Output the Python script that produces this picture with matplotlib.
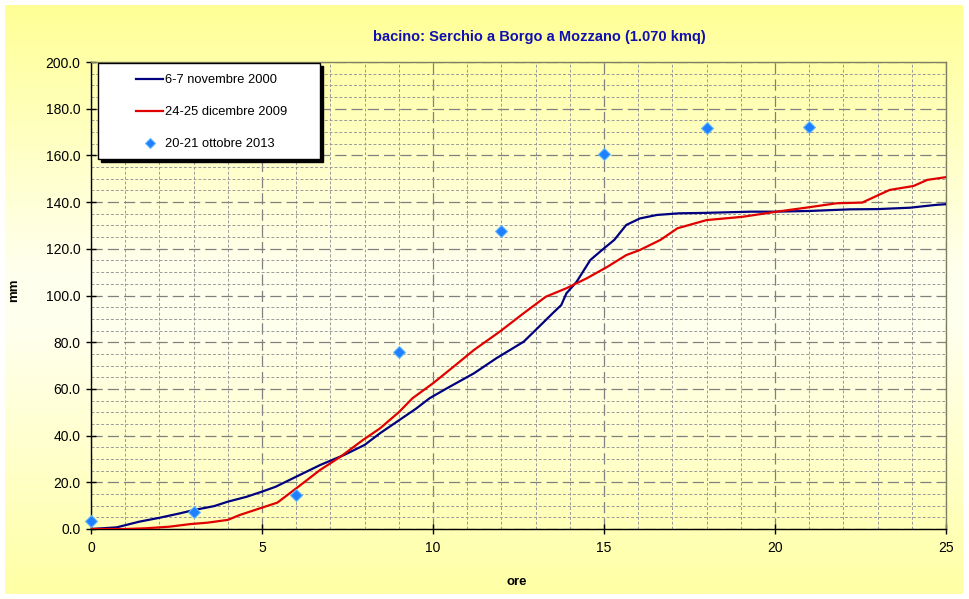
import matplotlib
matplotlib.use("Agg")
import matplotlib.pyplot as plt
from matplotlib.lines import Line2D
from matplotlib.patches import Rectangle
from matplotlib.ticker import MultipleLocator, FormatStrFormatter
import numpy as np

# 6-7 novembre 2000
t_2000 = [0, 0.75, 1.4, 2.0, 2.6, 3.0, 3.6, 4.0, 4.55, 5.0, 5.4, 6.0, 6.7, 7.4, 8.0, 8.45,
          9.0, 9.5, 9.9, 10.4, 11.2, 11.85, 12.65, 13.0, 13.5, 13.75, 13.9, 14.2, 14.6,
          15.0, 15.3, 15.65, 16.05, 16.55, 17.2, 18.0, 19.3, 20.0, 21.0, 22.2, 23.0, 23.95,
          24.7, 25.1]
v_2000 = [0, 0.7, 3.1, 4.8, 6.7, 8.1, 9.8, 11.7, 13.8, 16.0, 18.1, 22.4, 27.4, 31.7, 36.0, 41.0,
          46.5, 51.5, 56.0, 60.2, 66.7, 73.1, 80.2, 85.2, 92.4, 95.9, 100.9, 105.9, 115.2,
          120.2, 123.8, 130.2, 133.0, 134.5, 135.2, 135.4, 135.9, 135.9, 136.2, 136.9, 137.0,
          137.6, 138.8, 139.2]

# 24-25 dicembre 2009
t_2009 = [0, 1.0, 1.6, 2.3, 2.9, 3.4, 4.0, 4.35, 4.95, 5.45, 6.0, 6.7, 7.3, 7.95, 8.45, 9.0,
          9.4, 10.0, 10.6, 11.2, 11.95, 12.65, 13.3, 13.9, 14.5, 15.1, 15.65, 16.05, 16.65,
          17.15, 18.0, 19.05, 20.05, 21.0, 21.8, 22.55, 23.35, 24.05, 24.45, 25.1]
v_2009 = [0, 0, 0.3, 1.0, 2.1, 2.7, 3.9, 6.0, 8.9, 11.3, 17.4, 25.3, 31.0, 38.1, 43.1, 50.0,
          56.0, 62.4, 69.5, 76.7, 84.5, 92.4, 99.5, 103.1, 107.4, 112.3, 117.3, 119.5, 123.8,
          128.8, 132.3, 133.7, 135.9, 137.8, 139.5, 139.8, 145.2, 146.9, 149.5, 150.9]

# 20-21 ottobre 2013
t_2013 = [0, 3, 6, 9, 12, 15, 18, 21]
v_2013 = [3.4, 7.3, 14.6, 75.8, 127.6, 160.6, 171.7, 172.2]

labels = ["6-7 novembre 2000", "24-25 dicembre 2009", "20-21 ottobre 2013"]
title = "bacino: Serchio a Borgo a Mozzano (1.070 kmq)"

plt.rcParams['font.family'] = ['Liberation Sans', 'DejaVu Sans']

W, H = 970, 599
fig = plt.figure(figsize=(W / 100, H / 100), dpi=100)
fig.patch.set_facecolor("white")

# gradient background of the chart area
bg = fig.add_axes([5 / W, 5 / H, 958 / W, 589 / H], zorder=0)
pos = np.array([0.0, 0.45, 0.55, 1.0])
cols = np.array([[255, 255, 165], [255, 255, 238], [255, 255, 238], [255, 255, 150]]) / 255
yy = np.linspace(0, 1, 300)
grad = np.stack([np.interp(yy, pos, cols[:, i]) for i in range(3)], axis=1)
bg.imshow(grad[:, None, :], aspect="auto", extent=[0, 1, 0, 1], origin="lower")
bg.axis("off")

ax = fig.add_axes([91 / W, (H - 529) / H, 855 / W, 467 / H], zorder=1)
ax.patch.set_alpha(0)

ax.plot(t_2000, v_2000, color="#000080", lw=1.6, label=labels[0], zorder=3)
ax.plot(t_2009, v_2009, color="#E00000", lw=1.6, label=labels[1], zorder=3)
ax.plot(t_2013, v_2013, ls="none", marker="D", ms=6, color="#1E7FFF",
        mec="#66B8FF", mew=0.8, label=labels[2], zorder=4, clip_on=False)

ax.set_xlim(0, 25)
ax.set_ylim(0, 200)
ax.xaxis.set_major_locator(MultipleLocator(5))
ax.xaxis.set_minor_locator(MultipleLocator(1))
ax.yaxis.set_major_locator(MultipleLocator(20))
ax.yaxis.set_minor_locator(MultipleLocator(5))
ax.yaxis.set_major_formatter(FormatStrFormatter("%.1f"))

ax.grid(which="major", color="#808080", lw=0.9, ls=(0, (9, 4)))
ax.grid(which="minor", color="#9a9a9a", lw=0.7, ls=(0, (3, 2)))
ax.set_axisbelow(True)

ax.tick_params(which="major", direction="inout", length=7, width=1, labelsize=10, pad=4)
ax.tick_params(axis="x", which="major", pad=5)
ax.tick_params(which="minor", length=0)
for s in ["top", "right"]:
    ax.spines[s].set_color("#808060")
    ax.spines[s].set_linewidth(1)
for s in ["left", "bottom"]:
    ax.spines[s].set_color("black")
    ax.spines[s].set_linewidth(1)

ax.set_xlabel("ore", fontsize=9.5, fontweight="bold", va="center")
ax.set_ylabel("mm", fontsize=9.5, fontweight="bold", va="center")
ax.xaxis.set_label_coords((517 - 91) / 855, (529 - 582) / 467)
ax.yaxis.set_label_coords((14 - 91) / 855, (529 - 290) / 467)

fig.text(539 / W, 1 - 37 / H, title, ha="center", va="center", fontsize=10.5,
         fontweight="bold", color="#1010B0")

# legend box with shadow
fig.patches.append(Rectangle((101 / W, 1 - 162 / H), 222 / W, 96 / H, transform=fig.transFigure,
                             facecolor="black", edgecolor="black", zorder=5))
fig.patches.append(Rectangle((98 / W, 1 - 159 / H), 222 / W, 96 / H, transform=fig.transFigure,
                             facecolor="white", edgecolor="black", lw=1, zorder=6))
handles = [Line2D([], [], color="#000080", lw=1.6),
           Line2D([], [], color="#E00000", lw=1.6),
           Line2D([], [], ls="none", marker="D", ms=5, color="#1E7FFF", mec="#66B8FF", mew=0.8)]
leg = fig.legend(handles, labels, loc="upper left", bbox_to_anchor=(136 / W, 1 - 74 / H),
                 frameon=False, fontsize=9.3, handlelength=2.1, handletextpad=0.15,
                 labelspacing=1.55, borderpad=0, borderaxespad=0)
leg.set_zorder(7)

fig.savefig("out.png", dpi=100)
